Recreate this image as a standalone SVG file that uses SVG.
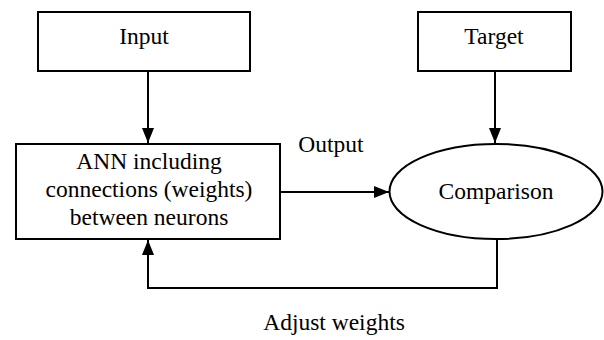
<svg xmlns="http://www.w3.org/2000/svg" width="604" height="340" viewBox="0 0 604 340">
<style>
.box{fill:#fff;stroke:#000;stroke-width:2}
.t{font-family:'Liberation Serif','Times New Roman',serif;font-size:23.5px;fill:#000;text-anchor:middle}
.ln{fill:none;stroke:#000;stroke-width:2}
</style>
<defs>
<marker id="ah" viewBox="0 0 15 12" refX="15" refY="6" markerWidth="15" markerHeight="12" markerUnits="userSpaceOnUse" orient="auto">
<path d="M0,0 L15,6 L0,12 Z" fill="#000"/>
</marker>
</defs>
<rect width="604" height="340" fill="#fff"/>
<g id="input"><rect class="box" x="38" y="12" width="212" height="59"/><text class="t" x="144" y="44">Input</text></g>
<g id="target"><rect class="box" x="418" y="12" width="153" height="59"/><text class="t" x="494" y="44">Target</text></g>
<g id="ann"><rect class="box" x="16" y="144" width="264" height="95"/>
<text class="t" x="149" y="169">ANN including</text>
<text class="t" x="149" y="197">connections (weights)</text>
<text class="t" x="149" y="225">between neurons</text></g>
<g id="comparison"><ellipse class="box" cx="496" cy="191.5" rx="106.5" ry="47.5"/><text class="t" x="496" y="199">Comparison</text></g>
<g id="connectors">
<line class="ln" x1="148" y1="71" x2="148" y2="143" marker-end="url(#ah)"/>
<line class="ln" x1="495" y1="71" x2="495" y2="143" marker-end="url(#ah)"/>
<line class="ln" x1="280" y1="192" x2="389" y2="192" marker-end="url(#ah)"/>
<polyline class="ln" points="497,239 497,288 148,288 148,240" marker-end="url(#ah)"/>
<text class="t" x="331" y="152">Output</text>
<text class="t" x="334" y="330">Adjust weights</text>
</g>
</svg>
